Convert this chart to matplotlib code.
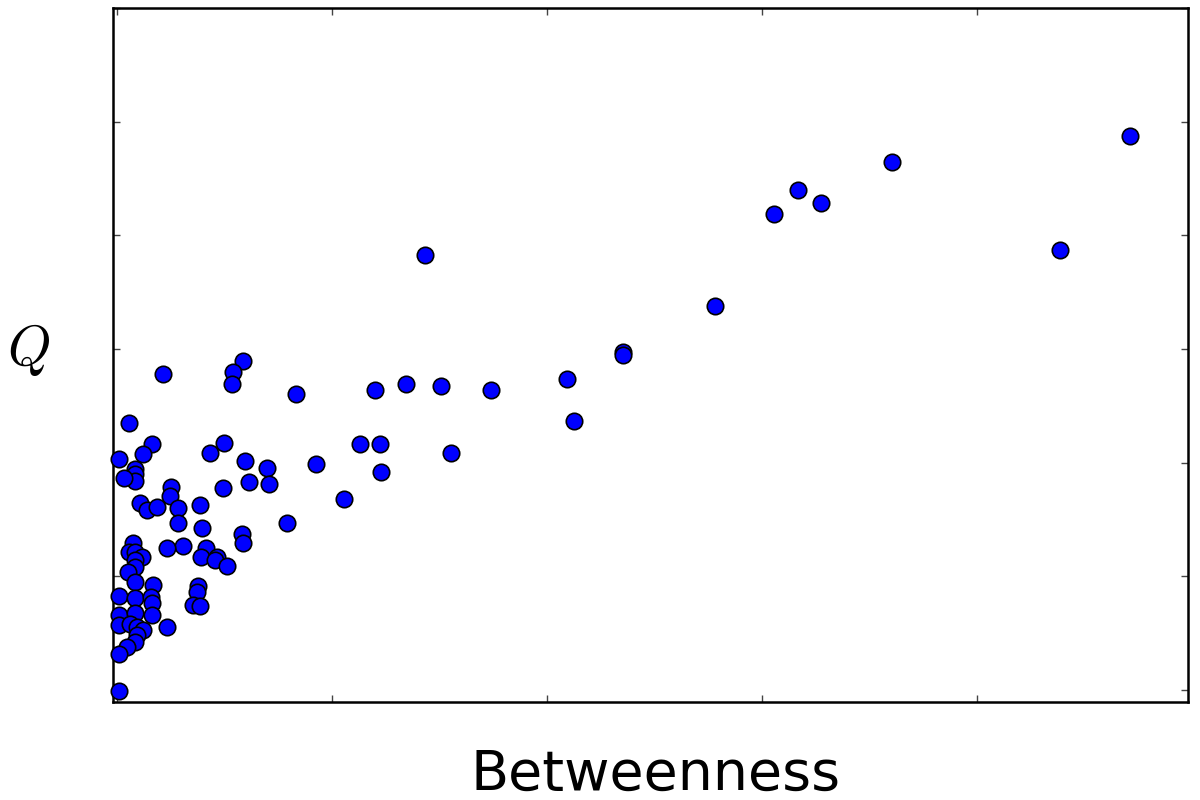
import matplotlib
matplotlib.use("Agg")
import matplotlib.pyplot as plt

plt.rcParams['mathtext.fontset'] = 'cm'

# betweenness (x) and Q (y)
betweenness = [
    4.712, 4.386, 3.605, 3.167, 3.056, 3.274, 2.781, 2.353, 2.353, 1.433,
    2.093, 2.126, 1.740, 1.507, 1.344, 1.200, 1.553, 1.130, 1.223, 1.228,
    1.056, 0.926, 0.833, 0.791, 0.586, 0.540, 0.535, 0.214, 0.056, 0.498,
    0.433, 0.595, 0.698, 0.707, 0.614, 0.493, 0.581, 0.586, 0.163, 0.121,
    0.009, 0.084, 0.084, 0.084, 0.033, 0.251, 0.247, 0.107, 0.140, 0.186,
    0.284, 0.284, 0.386, 0.395, 0.307, 0.233, 0.414, 0.391, 0.465, 0.456,
    0.512, 0.074, 0.056, 0.084, 0.116, 0.084, 0.084, 0.051, 0.167, 0.084,
    0.377, 0.372, 0.353, 0.386, 0.009, 0.084, 0.158, 0.163, 0.163, 0.009,
    0.084, 0.009, 0.060, 0.093, 0.121, 0.093, 0.084, 0.047, 0.009, 0.233,
    0.009,
]
q_values = [
    4.877, 3.868, 4.649, 4.395, 4.184, 4.281, 3.377, 2.974, 2.947, 3.825,
    2.737, 2.368, 2.640, 2.675, 2.693, 2.640, 2.088, 2.167, 2.167, 1.921,
    1.684, 1.991, 2.605, 1.474, 2.895, 2.798, 2.693, 2.781, 2.351, 2.175,
    2.088, 2.018, 1.956, 1.816, 1.833, 1.781, 1.377, 1.298, 2.167, 2.079,
    2.035, 1.947, 1.904, 1.842, 1.868, 1.789, 1.711, 1.649, 1.588, 1.614,
    1.605, 1.474, 1.632, 1.430, 1.263, 1.254, 1.246, 1.167, 1.167, 1.140,
    1.088, 1.298, 1.211, 1.211, 1.167, 1.140, 1.079, 1.035, 0.921, 0.947,
    0.912, 0.860, 0.746, 0.737, 0.825, 0.807, 0.816, 0.763, 0.658, 0.658,
    0.675, 0.570, 0.579, 0.553, 0.526, 0.482, 0.421, 0.377, 0.316, 0.553,
    -0.009,
]

x_ticks = [0, 1, 2, 3, 4]
y_ticks = [0, 1, 2, 3, 4, 5, 6]

fig = plt.figure(figsize=(12, 8), dpi=100)
ax = fig.add_axes([0.094, 0.1225, 0.896, 0.8675])

ax.scatter(betweenness, q_values, s=140, c='#0000ff',
           edgecolors='black', linewidths=1.2, zorder=3, clip_on=False)

ax.set_xlim(-0.019, 4.981)
ax.set_ylim(-0.105, 5.982)
ax.set_xticks(x_ticks)
ax.set_yticks(y_ticks)
ax.set_xticklabels([])
ax.set_yticklabels([])
ax.tick_params(direction='in', length=5, width=1, colors='#444444',
               top=True, right=True)
for sp in ax.spines.values():
    sp.set_linewidth(1.8)

fig.text(0.546, 0.031, 'Betweenness', fontsize=40, ha='center', va='center')
fig.text(0.024, 0.5625, r'$Q$', fontsize=40, ha='center', va='center')

fig.savefig('out.png', dpi=100)
